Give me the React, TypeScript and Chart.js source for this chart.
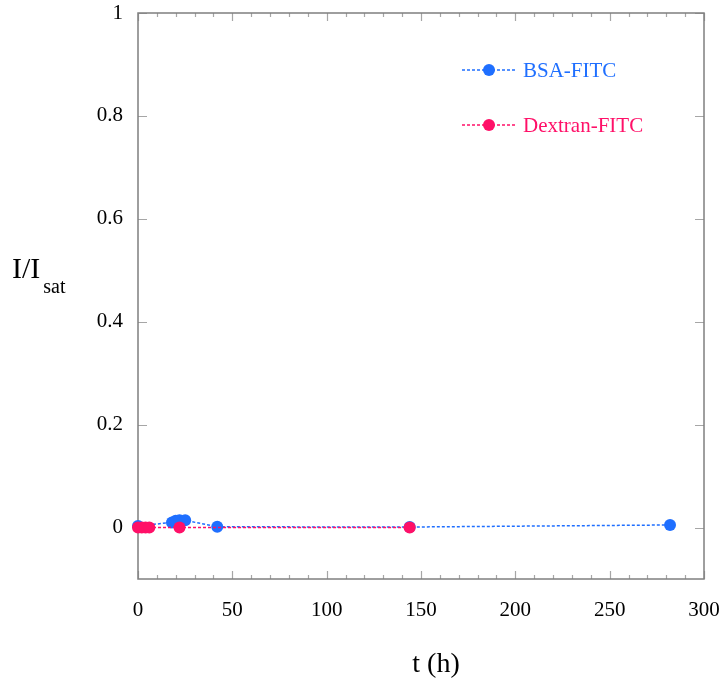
import React, { useEffect, useRef } from "react";
import { Chart, registerables } from "chart.js";

Chart.register(...registerables);

const BSA_T = [0, 18, 20, 22, 25, 42, 144, 282];
const BSA_I = [0.003, 0.01, 0.013, 0.014, 0.014, 0.0015, 0.001, 0.005];
const DEX_T = [0, 2, 4, 6, 22, 144];
const DEX_I = [0.0, 0.0, 0.0, 0.0, 0.0, 0.0];

const X_TICKS = [0, 50, 100, 150, 200, 250, 300];
const X_MINOR = [10, 20, 30, 40, 60, 70, 80, 90, 110, 120, 130, 140, 160, 170, 180, 190, 210, 220, 230, 240, 260, 270, 280, 290];
const Y_TICKS = [0, 0.2, 0.4, 0.6, 0.8, 1];

const SERIES_NAMES = ["BSA-FITC", "Dextran-FITC"];
const COLORS = ["#1f6fff", "#ff1068"];

const FONT = "'Liberation Serif', 'Times New Roman', serif";

const framePlugin = {
  id: "framePlugin",
  beforeDatasetsDraw(chart: any) {
    const { ctx, chartArea } = chart;
    const xs = chart.scales.x;
    const ys = chart.scales.y;
    const { left, right, top, bottom } = chartArea;
    ctx.save();
    ctx.strokeStyle = "#a6a6a6";
    ctx.lineWidth = 1.2;
    const vt = (v: number, len: number) => {
      const px = Math.round(xs.getPixelForValue(v)) + 0.5;
      ctx.beginPath();
      ctx.moveTo(px, bottom);
      ctx.lineTo(px, bottom - len);
      ctx.moveTo(px, top);
      ctx.lineTo(px, top + len);
      ctx.stroke();
    };
    X_TICKS.forEach((v) => vt(v, 8));
    X_MINOR.forEach((v) => vt(v, 4));
    Y_TICKS.forEach((v) => {
      const py = Math.round(ys.getPixelForValue(v)) + 0.5;
      ctx.beginPath();
      ctx.moveTo(left, py);
      ctx.lineTo(left + 9, py);
      ctx.moveTo(right, py);
      ctx.lineTo(right - 9, py);
      ctx.stroke();
    });
    ctx.strokeStyle = "#7f7f7f";
    ctx.lineWidth = 1.5;
    ctx.strokeRect(left, top, right - left, bottom - top);
    ctx.restore();
  },
  afterDraw(chart: any) {
    const { ctx, chartArea } = chart;
    const { left, right } = chartArea;
    ctx.save();
    ctx.fillStyle = "#000";
    ctx.textBaseline = "alphabetic";
    ctx.textAlign = "center";
    ctx.font = `28px ${FONT}`;
    ctx.fillText("t (h)", (left + right) / 2 + 15, 672);
    ctx.textAlign = "left";
    ctx.font = `30px ${FONT}`;
    ctx.fillText("I/I", 12, 278);
    const w = ctx.measureText("I/I").width;
    ctx.font = `20px ${FONT}`;
    ctx.fillText("sat", 12 + w + 3, 293);

    const items = [
      { y: 70, i: 0 },
      { y: 125, i: 1 },
    ];
    items.forEach(({ y, i }) => {
      ctx.strokeStyle = COLORS[i];
      ctx.lineWidth = 1.5;
      ctx.setLineDash([3, 2]);
      ctx.beginPath();
      ctx.moveTo(462, y);
      ctx.lineTo(517, y);
      ctx.stroke();
      ctx.setLineDash([]);
      ctx.fillStyle = COLORS[i];
      ctx.beginPath();
      ctx.arc(489, y, 6, 0, Math.PI * 2);
      ctx.fill();
      ctx.font = `21px ${FONT}`;
      ctx.textBaseline = "middle";
      ctx.textAlign = "left";
      ctx.fillText(SERIES_NAMES[i], 523, y + 1);
    });
    ctx.restore();
  },
};

export default function App() {
  const ref = useRef<HTMLCanvasElement | null>(null);
  useEffect(() => {
    document.body.style.margin = "0";
    if (!ref.current) return;
    const mk = (ts: number[], vs: number[]) => ts.map((t, k) => ({ x: t, y: vs[k] }));
    const ds = (i: number, ts: number[], vs: number[], order: number) => ({
      label: SERIES_NAMES[i],
      data: mk(ts, vs),
      order,
      clip: false,
      showLine: true,
      borderColor: COLORS[i],
      backgroundColor: COLORS[i],
      borderWidth: 1.5,
      borderDash: [3, 2],
      pointRadius: 6,
      pointBorderWidth: 0,
    });
    const chart = new Chart(ref.current, {
      type: "scatter",
      data: {
        datasets: [ds(0, BSA_T, BSA_I, 2), ds(1, DEX_T, DEX_I, 1)],
      },
      options: {
        responsive: false,
        animation: false,
        layout: { padding: { top: 13, right: 20, left: 0, bottom: 0 } },
        plugins: { legend: { display: false }, tooltip: { enabled: false } },
        scales: {
          x: {
            type: "linear",
            min: 0,
            max: 300,
            afterBuildTicks: (s: any) => {
              s.ticks = X_TICKS.map((v) => ({ value: v }));
            },
            afterFit: (s: any) => {
              s.height = 102;
              s.paddingLeft = 0;
              s.paddingRight = 0;
            },
            grid: { display: false, drawTicks: false },
            border: { display: false },
            ticks: {
              padding: 19,
              color: "#000",
              font: { family: FONT, size: 21 },
              maxRotation: 0,
              callback: (v: any) => String(v),
            },
          },
          y: {
            type: "linear",
            min: -0.1,
            max: 1,
            afterBuildTicks: (s: any) => {
              s.ticks = Y_TICKS.map((v) => ({ value: v }));
            },
            afterFit: (s: any) => {
              s.width = 138;
              s.paddingTop = 0;
              s.paddingBottom = 0;
            },
            grid: { display: false, drawTicks: false },
            border: { display: false },
            ticks: {
              padding: 15,
              color: "#000",
              font: { family: FONT, size: 21 },
              callback: (v: any) => String(Math.round(v * 10) / 10),
            },
          },
        },
      },
      plugins: [framePlugin],
    });
    return () => chart.destroy();
  }, []);
  return (
    <div style={{ width: 724, height: 681 }}>
      <canvas ref={ref} width={724} height={681} style={{ display: "block" }} />
    </div>
  );
}
